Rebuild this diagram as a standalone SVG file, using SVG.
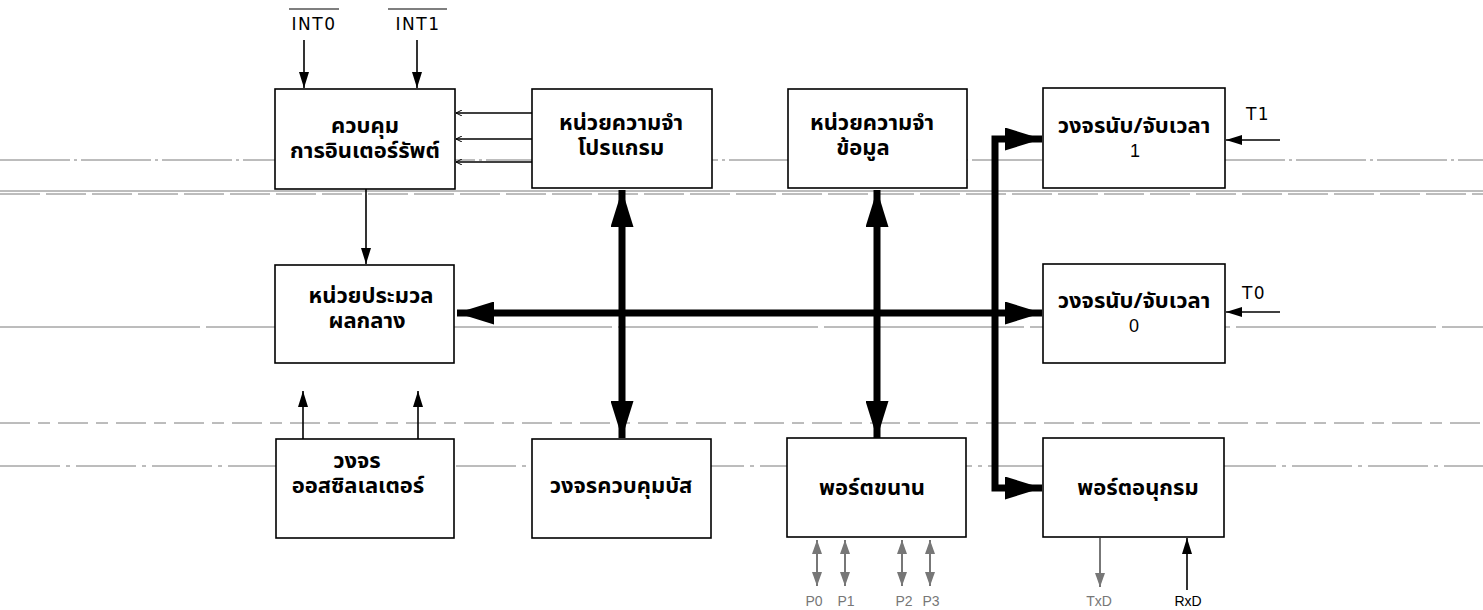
<svg xmlns="http://www.w3.org/2000/svg" width="1483" height="610" viewBox="0 0 1483 610">
<style>
.box{fill:#fff;stroke:#000;stroke-width:1.6}
.th{font-family:"Noto Sans Thai","Noto Sans","DejaVu Sans",sans-serif;font-weight:bold;font-size:22px;fill:#000;text-anchor:middle}
.lat{font-family:"DejaVu Sans","Liberation Sans",sans-serif;font-size:17px;fill:#000;text-anchor:middle;letter-spacing:1.5px}
.num{font-family:"Liberation Sans","DejaVu Sans",sans-serif;font-size:18px;fill:#000;text-anchor:middle}
.sm{font-family:"Liberation Sans","DejaVu Sans",sans-serif;font-size:14px;text-anchor:middle}
.bg{stroke:#7a7a7a;stroke-width:1;fill:none}
.thin{stroke:#000;stroke-width:1.6;fill:none}
.bus{stroke:#000;stroke-width:7;fill:none}
.gray{stroke:#777;stroke-width:2;fill:none}
</style>
<defs>
<marker id="ah" viewBox="0 0 16 10" refX="16" refY="5" markerWidth="16" markerHeight="10" markerUnits="userSpaceOnUse" orient="auto-start-reverse">
<path d="M0,0 L16,5 L0,10 Z" fill="#000"/>
</marker>
<marker id="big" viewBox="0 0 37 23" refX="37" refY="11.5" markerWidth="37" markerHeight="23" markerUnits="userSpaceOnUse" orient="auto-start-reverse">
<path d="M0,0 L37,11.5 L0,23 Z" fill="#000"/>
</marker>
<marker id="ga" viewBox="0 0 14 10" refX="14" refY="5" markerWidth="14" markerHeight="10" markerUnits="userSpaceOnUse" orient="auto-start-reverse">
<path d="M0,0 L14,5 L0,10 Z" fill="#777"/>
</marker>
<marker id="tiny" viewBox="0 0 6 6" refX="6" refY="3" markerWidth="6" markerHeight="6" markerUnits="userSpaceOnUse" orient="auto">
<path d="M0,0 L6,3 L0,6" fill="none" stroke="#000" stroke-width="1"/>
</marker>
</defs>

<g id="background-lines">
<line class="bg" x1="0" y1="160" x2="1483" y2="160" stroke-dasharray="70 4 3 4"/>
<line class="bg" x1="0" y1="191" x2="1483" y2="191"/>
<line class="bg" x1="0" y1="194" x2="1483" y2="194" stroke-dasharray="40 6"/>
<line class="bg" x1="0" y1="327" x2="1483" y2="327" stroke-dasharray="200 6"/>
<line class="bg" x1="0" y1="423" x2="1483" y2="423" stroke-dasharray="30 8 12 8"/>
<line class="bg" x1="0" y1="466" x2="1483" y2="466" stroke-dasharray="60 6 4 6"/>
</g>

<g id="connectors">
<line class="thin" x1="304" y1="40" x2="304" y2="88" marker-end="url(#ah)"/>
<line class="thin" x1="417" y1="40" x2="417" y2="88" marker-end="url(#ah)"/>
<line class="thin" x1="532" y1="113" x2="456" y2="113" stroke-width="1.2" marker-end="url(#tiny)"/>
<line class="thin" x1="532" y1="139" x2="456" y2="139" stroke-width="2.2" marker-end="url(#tiny)"/>
<line class="thin" x1="532" y1="162" x2="456" y2="162" stroke-width="1.2" marker-end="url(#tiny)"/>
<line class="thin" x1="366" y1="189" x2="366" y2="264" marker-end="url(#ah)"/>
<line class="thin" x1="303" y1="439" x2="303" y2="391" marker-end="url(#ah)"/>
<line class="thin" x1="418" y1="439" x2="418" y2="391" marker-end="url(#ah)"/>
<line class="bus" x1="457" y1="313" x2="1042" y2="313" marker-start="url(#big)" marker-end="url(#big)"/>
<line class="bus" x1="622" y1="190" x2="622" y2="438" marker-start="url(#big)" marker-end="url(#big)"/>
<line class="bus" x1="877" y1="190" x2="877" y2="438" marker-start="url(#big)" marker-end="url(#big)"/>
<path class="bus" d="M1042,139 L995,139 L995,488 L1042,488" marker-start="url(#big)" marker-end="url(#big)"/>
<line class="thin" x1="1280" y1="140" x2="1226" y2="140" marker-end="url(#ah)"/>
<line class="thin" x1="1280" y1="312" x2="1226" y2="312" marker-end="url(#ah)"/>
<line class="gray" x1="817" y1="540" x2="817" y2="586" marker-start="url(#ga)" marker-end="url(#ga)"/>
<line class="gray" x1="845" y1="540" x2="845" y2="586" marker-start="url(#ga)" marker-end="url(#ga)"/>
<line class="gray" x1="902" y1="540" x2="902" y2="586" marker-start="url(#ga)" marker-end="url(#ga)"/>
<line class="gray" x1="930" y1="540" x2="930" y2="586" marker-start="url(#ga)" marker-end="url(#ga)"/>
<line class="gray" x1="1100" y1="538" x2="1100" y2="587" marker-end="url(#ga)"/>
<line class="thin" x1="1187" y1="590" x2="1187" y2="538" marker-end="url(#ah)"/>
</g>

<g id="labels">
<text class="lat" x="314" y="30">INT0</text>
<line x1="289" y1="9" x2="339" y2="9" stroke="#000" stroke-width="1.2"/>
<text class="lat" x="418" y="30">INT1</text>
<line x1="388" y1="9" x2="447" y2="9" stroke="#000" stroke-width="1.2"/>
<text class="lat" x="1258" y="120">T1</text>
<text class="lat" x="1254" y="299">T0</text>
<text class="sm" x="814" y="606" fill="#777">P0</text>
<text class="sm" x="846" y="606" fill="#777">P1</text>
<text class="sm" x="904" y="606" fill="#777">P2</text>
<text class="sm" x="931" y="606" fill="#777">P3</text>
<text class="sm" x="1099" y="606" fill="#777">TxD</text>
<text class="sm" x="1188" y="606" fill="#000">RxD</text>
</g>

<g id="interrupt-control">
<rect class="box" x="275" y="89" width="180" height="100"/>
<text class="th" x="365" y="133">ควบคุม</text>
<text class="th" x="365" y="158">การอินเตอร์รัพต์</text>
</g>
<g id="program-memory">
<rect class="box" x="532" y="89" width="180" height="99"/>
<text class="th" x="621" y="130">หน่วยความจำ</text>
<text class="th" x="621" y="155">โปรแกรม</text>
</g>
<g id="data-memory">
<rect class="box" x="788" y="89" width="179" height="99"/>
<text class="th" x="872" y="130">หน่วยความจำ</text>
<text class="th" x="863" y="155">ข้อมูล</text>
</g>
<g id="timer1">
<rect class="box" x="1043" y="88" width="182" height="100"/>
<text class="th" x="1134" y="133">วงจรนับ/จับเวลา</text>
<text class="num" x="1135" y="157">1</text>
</g>
<g id="cpu">
<rect class="box" x="275" y="265" width="179" height="98"/>
<text class="th" x="371" y="303">หน่วยประมวล</text>
<text class="th" x="367" y="328">ผลกลาง</text>
</g>
<g id="timer0">
<rect class="box" x="1043" y="264" width="182" height="99"/>
<text class="th" x="1134" y="308">วงจรนับ/จับเวลา</text>
<text class="num" x="1134" y="332">0</text>
</g>
<g id="oscillator">
<rect class="box" x="276" y="439" width="178" height="99"/>
<text class="th" x="357" y="468">วงจร</text>
<text class="th" x="358" y="493">ออสซิลเลเตอร์</text>
</g>
<g id="bus-control">
<rect class="box" x="532" y="439" width="179" height="99"/>
<text class="th" x="621" y="493">วงจรควบคุมบัส</text>
</g>
<g id="parallel-port">
<rect class="box" x="787" y="438" width="179" height="99"/>
<text class="th" x="872" y="495">พอร์ตขนาน</text>
</g>
<g id="serial-port">
<rect class="box" x="1043" y="438" width="181" height="99"/>
<text class="th" x="1138" y="495">พอร์ตอนุกรม</text>
</g>
</svg>
